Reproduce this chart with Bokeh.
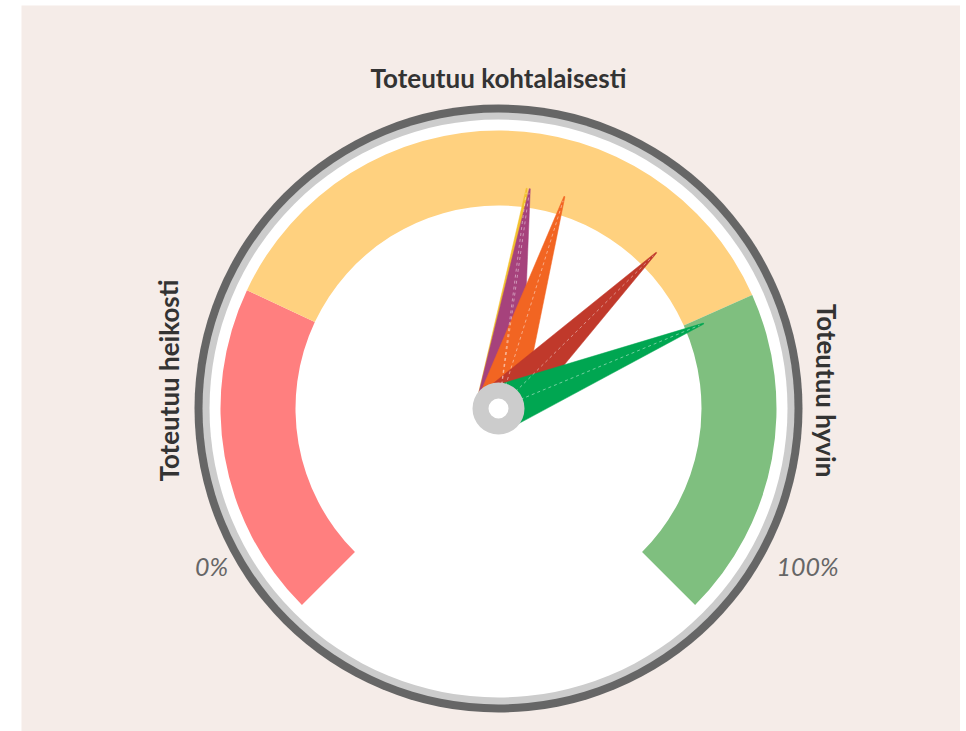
import numpy as np
from bokeh.plotting import figure
from bokeh.models import Range1d, ColumnDataSource
from bokeh.core.properties import value
from bokeh.embed import file_html
from bokeh.resources import INLINE

# ---- data ----
band_labels = ["Toteutuu heikosti", "Toteutuu kohtalaisesti", "Toteutuu hyvin"]
band_from = [0, 26, 74.4]
band_to = [26, 74.4, 100]
band_colors = ["#FF7F7F", "#FFD17F", "#7FBF7F"]

needle_values = [52.7, 53.0, 56.4, 66.8, 75.0]
needle_colors = ["#F2C12E", "#A6427C", "#F26522", "#C0392B", "#00A651"]

scale_min, scale_max = 0, 100
tick_values = [0, 100]
tick_labels = ["0%", "100%"]
start_deg, end_deg = -135, 135


def ang(v):
    theta = start_deg + (v - scale_min) / (scale_max - scale_min) * (end_deg - start_deg)
    return np.radians(90 - theta)


p = figure(width=960, height=731,
           x_range=Range1d(-477, 462), y_range=Range1d(-323, 403),
           x_axis_type=None, y_axis_type=None,
           toolbar_location=None, output_backend="svg",
           min_border_left=21, min_border_right=0,
           min_border_top=5, min_border_bottom=0,
           background_fill_color="#F5ECE8", border_fill_color="white",
           outline_line_color=None)
p.grid.visible = False

# ---- gauge frame ----
p.circle(x=[0], y=[0], radius=304, fill_color="#666666", line_color=None)
p.circle(x=[0], y=[0], radius=296, fill_color="#CCCCCC", line_color=None)
p.circle(x=[0], y=[0], radius=289, fill_color="#FFFFFF", line_color=None)

# ---- plot bands ----
bands = ColumnDataSource(dict(
    start=[ang(t) for t in band_to],
    end=[ang(f) for f in band_from],
    color=band_colors,
))
p.annular_wedge(x=0, y=0, inner_radius=203, outer_radius=278,
                start_angle="start", end_angle="end", direction="anticlock",
                fill_color="color", line_color=None, source=bands)

# ---- needles ----
R = 222
bw = 46
tw = 1
xs, ys, lx, ly = [], [], [], []
for v in needle_values:
    a = ang(v)
    u = np.array([np.cos(a), np.sin(a)])
    n = np.array([-np.sin(a), np.cos(a)])
    pts = [(-4, -bw / 2), (0, -bw / 2), (R, -tw / 2), (R, tw / 2), (0, bw / 2), (-4, bw / 2)]
    poly = [s * u + t * n for s, t in pts]
    xs.append([q[0] for q in poly])
    ys.append([q[1] for q in poly])
    lx.append([0, R * u[0] * 0.98])
    ly.append([0, R * u[1] * 0.98])

needles = ColumnDataSource(dict(xs=xs, ys=ys, color=needle_colors))
p.patches(xs="xs", ys="ys", fill_color="color", line_color="color",
          line_width=0.5, source=needles)
p.multi_line(xs=lx, ys=ly, line_color="white", line_alpha=0.45,
             line_dash="3 3", line_width=1)

# ---- pivot ----
p.circle(x=[0], y=[0], radius=26, fill_color="#CCCCCC", line_color=None)
p.circle(x=[0], y=[0], radius=10, fill_color="#FFFFFF", line_color=None)

# ---- band labels ----
lab = ColumnDataSource(dict(
    x=[-330, 0, 328], y=[28, 331, 18],
    text=band_labels, angle=[np.pi / 2, 0, -np.pi / 2],
))
p.text(x="x", y="y", text="text", angle="angle", source=lab,
       text_font=value("Lato"), text_font_size=value("26px"),
       text_font_style="bold", text_color="#333333",
       text_align="center", text_baseline="middle")

# ---- scale labels ----
tl = ColumnDataSource(dict(
    x=[-287, 309], y=[-157, -157], text=tick_labels,
))
p.text(x="x", y="y", text="text", source=tl,
       text_font=value("Lato"), text_font_size=value("25px"),
       text_font_style="italic", text_color="#666666",
       text_align="center", text_baseline="middle")

open("out.html", "w").write(file_html(p, INLINE))
